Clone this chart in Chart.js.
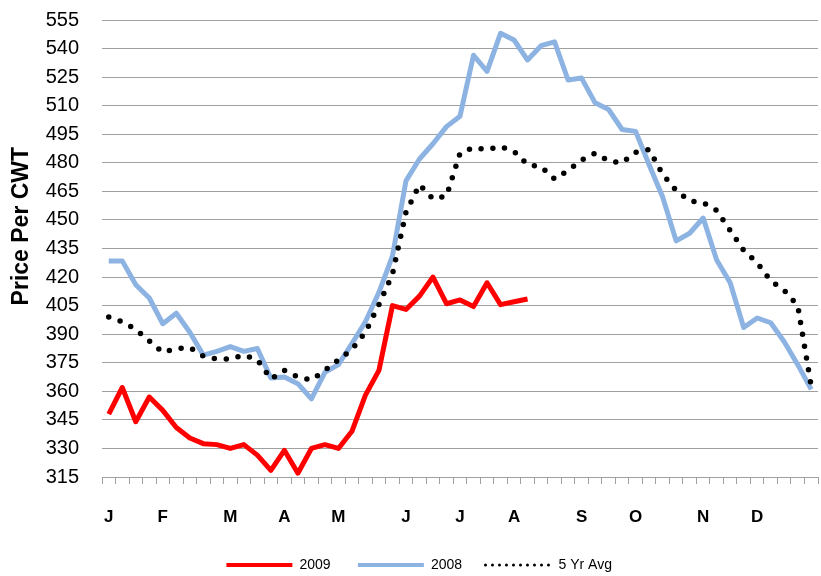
<!DOCTYPE html>
<html>
<head>
<meta charset="utf-8">
<script src="https://cdn.jsdelivr.net/npm/chart.js@4.4.1/dist/chart.umd.min.js"></script>
<style>
  html, body { margin: 0; padding: 0; background: #fff; }
</style>
</head>
<body>
<canvas id="grafico" width="821" height="576"></canvas>
<script>
// weekly tick labels, month letter on the first week of each month
const weeks = ['J', '', '', '', 'F', '', '', '', '', 'M', '', '', '', 'A', '', '', '', 'M', '', '', '', '',
  'J', '', '', '', 'J', '', '', '', 'A', '', '', '', '', 'S', '', '', '', 'O', '', '', '', '',
  'N', '', '', '', 'D', '', '', '', '']

const price2009 = [348, 362, 344, 357, 350, 341, 335.5, 332.5, 332, 330, 332, 326.5, 318.5, 329, 317, 330,
  332, 330, 339, 358, 371, 405, 403, 410, 420, 406, 408, 404.5, 417, 405.5, 407, 408.5]

const price2008 = [428.5, 428.5, 416, 409, 395.5, 401, 391, 379, 381, 383.5, 381, 382.5, 367, 367.5, 364, 356,
  370, 374, 385, 396.5, 412, 431, 470.5, 482, 490, 499, 504.5, 536.5, 528, 548, 544.5, 534, 541.5, 543.5,
  523.5, 524.5, 511.5, 508, 497.5, 496.5, 479, 462, 439, 443, 451, 429, 417, 393.5, 398.5, 396, 386, 374, 361]

const avg5yr = [399, 396.5, 392.5, 386.5, 380.5, 382.3, 383, 378.5, 377, 377, 379, 376.5, 366.5, 371, 367.5, 366,
  371, 376.5, 382, 391, 405.5, 421.5, 454, 468.5, 461, 462.5, 485, 488, 487, 488.5, 486, 479, 478, 471.5,
  476, 481.5, 485, 481, 480, 485.5, 487, 474, 465.5, 460, 459, 455, 444.5, 434, 427.5, 418, 413, 405, 362.5]

const yTicks = { min: 315, max: 555, step: 15 }

Chart.defaults.font.family = "'Liberation Sans', Arial, sans-serif"
Chart.defaults.color = '#000'

function generarDatasets () {
  return [{
    label: '2009',
    data: price2009,
    borderColor: '#ff0000',
    backgroundColor: '#ff0000',
    borderWidth: 5,
    order: 1
  }, {
    label: '2008',
    data: price2008,
    borderColor: '#8db3e2',
    backgroundColor: '#8db3e2',
    borderWidth: 5,
    order: 2
  }, {
    label: '5 Yr Avg',
    data: avg5yr,
    borderColor: '#000',
    backgroundColor: '#000',
    borderWidth: 5.5,
    borderDash: [0, 12],
    borderCapStyle: 'round',
    order: 0
  }]
}

// legend: thinner marks, extra trailing space to spread the items like the original
function etiquetasLeyenda (chart) {
  const items = Chart.defaults.plugins.legend.labels.generateLabels(chart)
  const huecos = [6, 5, 21]
  return items.map(item => {
    if (item.datasetIndex === 2) {
      item.lineWidth = 3
      item.lineDash = [0, 7]
      item.lineCap = 'round'
    } else {
      item.lineWidth = 4
    }
    item.text = item.text + ' '.repeat(huecos[item.datasetIndex])
    return item
  })
}

function crearGrafico (labels, datasets, chartNode) {
  const config = {
    type: 'line',
    data: { labels, datasets },
    options: {
      responsive: false,
      animation: false,
      elements: {
        point: { radius: 0 },
        line: { tension: 0, borderJoinStyle: 'round', fill: false }
      },
      layout: { padding: { top: 20, right: 3, left: 0, bottom: -6 } },
      plugins: {
        tooltip: { enabled: false },
        legend: {
          position: 'bottom',
          fullSize: false,
          labels: {
            usePointStyle: true,
            pointStyle: 'line',
            pointStyleWidth: 66,
            padding: 4,
            font: { size: 14 },
            sort: (a, b) => a.datasetIndex - b.datasetIndex,
            generateLabels: etiquetasLeyenda
          }
        }
      },
      scales: {
        x: {
          offset: true,
          grid: { offset: true, drawOnChartArea: false, drawTicks: true, tickLength: 7, color: '#a0a0a0' },
          border: { color: '#a0a0a0' },
          ticks: { autoSkip: false, maxRotation: 0, padding: 23, font: { size: 17, weight: 'bold' } },
          afterFit: axis => {
            axis.height = 77
            axis.paddingLeft = 0
            axis.paddingRight = 0
          }
        },
        y: {
          min: yTicks.min,
          max: yTicks.max,
          ticks: { stepSize: yTicks.step, padding: 23, font: { size: 20 } },
          grid: { color: '#a0a0a0', drawTicks: false },
          border: { display: false },
          title: {
            display: true,
            text: '       Price Per CWT',
            font: { size: 23, weight: 'bold' },
            padding: { top: 8, bottom: 11 }
          },
          afterFit: axis => {
            axis.width = 102
            axis.paddingTop = 0
            axis.paddingBottom = 0
          }
        }
      }
    }
  }
  return new Chart(chartNode, config)
}

crearGrafico(weeks, generarDatasets(), document.getElementById('grafico'))
</script>
</body>
</html>
